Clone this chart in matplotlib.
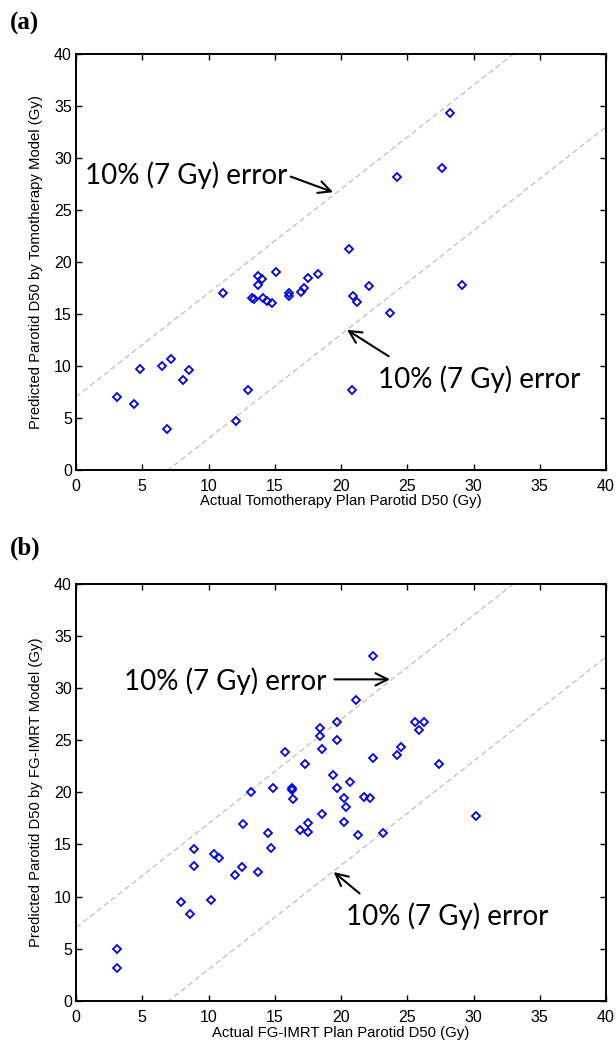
import matplotlib
matplotlib.use('Agg')
import matplotlib.pyplot as plt

# (a) tomotherapy plans vs model prediction (Gy)
tomo_actual = [3.1, 4.4, 4.8, 6.9, 6.5, 7.2, 8.1, 8.5, 11.1, 12.1, 13.0, 13.3, 13.4,
               13.7, 14.0, 13.7, 15.1, 14.1, 14.4, 14.8, 16.1, 16.1, 17.0, 17.2,
               17.5, 18.3, 28.2, 27.6, 24.2, 20.6, 22.1, 29.1, 20.9, 21.2, 23.7, 20.8]
tomo_pred = [7.0, 6.3, 9.7, 3.9, 10.0, 10.6, 8.6, 9.6, 17.0, 4.7, 7.7, 16.5, 16.4,
             18.6, 18.3, 17.8, 19.0, 16.5, 16.2, 16.0, 17.0, 16.7, 17.1, 17.5,
             18.4, 18.8, 34.3, 29.0, 28.2, 21.2, 17.7, 17.8, 16.7, 16.1, 15.1, 7.7]

# (b) FG-IMRT plans vs model prediction (Gy)
imrt_actual = [3.1, 3.1, 7.9, 8.6, 8.9, 8.9, 10.2, 10.4, 10.8, 12.0, 12.5, 12.6, 13.2,
               13.7, 14.5, 14.7, 14.9, 15.8, 16.3, 16.3, 16.4, 16.9, 17.3, 17.5,
               17.5, 18.4, 18.4, 18.6, 18.6, 19.4, 19.7, 19.7, 19.7, 20.2, 20.2,
               20.4, 20.7, 21.1, 21.3, 21.7, 22.2, 22.4, 22.4, 23.2, 24.2, 24.5,
               25.6, 25.9, 26.3, 27.4, 30.2]
imrt_pred = [5.0, 3.1, 9.5, 8.3, 14.6, 12.9, 9.7, 14.1, 13.7, 12.1, 12.8, 17.0, 20.0,
             12.4, 16.1, 14.7, 20.4, 23.9, 20.4, 20.2, 19.4, 16.4, 22.7, 17.1,
             16.2, 26.2, 25.4, 24.2, 17.9, 21.7, 26.8, 25.0, 20.4, 19.5, 17.2,
             18.6, 21.0, 28.9, 15.9, 19.6, 19.5, 33.1, 23.3, 16.1, 23.6, 24.4,
             26.8, 26.0, 26.8, 22.7, 17.7]

err_gy = 7
limits = [0, 40]
ticks = [0, 5, 10, 15, 20, 25, 30, 35, 40]
note = '10% (7 Gy) error'

panels = [
    ('(a)', tomo_actual, tomo_pred,
     'Actual Tomotherapy Plan Parotid D50 (Gy)',
     'Predicted Parotid D50 by Tomotherapy Model (Gy)',
     [((0.7, 27.5), (16.2, 28.2), (19.4, 26.7)),
      ((22.8, 7.8), (23.6, 10.9), (20.45, 13.45))]),
    ('(b)', imrt_actual, imrt_pred,
     'Actual FG-IMRT Plan Parotid D50 (Gy)',
     'Predicted Parotid D50 by FG-IMRT Model (Gy)',
     [((3.6, 29.8), (19.5, 30.85), (23.7, 30.85)),
      ((20.4, 7.3), (21.4, 10.3), (19.45, 12.35))]),
]

fig = plt.figure(figsize=(6.16, 10.45), dpi=100)
axes_rects = [[0.1234, 0.5507, 0.8604, 0.3976], [0.1234, 0.0424, 0.8604, 0.3987]]
label_y = [0.978, 0.4756]

for rect, ly, (tag, xs, ys, xlab, ylab, notes) in zip(axes_rects, label_y, panels):
    ax = fig.add_axes(rect)
    ax.plot(limits, [v + err_gy for v in limits], color='#b8b8b8', lw=0.8,
            ls=(0, (5, 3)), zorder=1)
    ax.plot(limits, [v - err_gy for v in limits], color='#b8b8b8', lw=0.8,
            ls=(0, (5, 3)), zorder=1)
    ax.plot(xs, ys, ls='none', marker='D', ms=3.8, mfc='none', mec='#0000ee',
            mew=1.3, zorder=3)
    ax.set_xlim(limits)
    ax.set_ylim(limits)
    ax.set_xticks(ticks)
    ax.set_yticks(ticks)
    ax.tick_params(direction='in', length=4, width=1, top=True, right=True,
                   labelsize=11.5)
    ax.tick_params(axis='x', pad=6.5)
    ax.tick_params(axis='y', pad=3)
    for lbl in ax.get_xticklabels() + ax.get_yticklabels():
        lbl.set_family('Liberation Sans')
    for sp in ax.spines.values():
        sp.set_linewidth(1.4)
    ax.set_xlabel(xlab, fontsize=10.7, family='Liberation Sans')
    ax.set_ylabel(ylab, fontsize=10.7, family='Liberation Sans')
    ax.xaxis.set_label_coords(0.5, -0.06)
    ax.yaxis.set_label_coords(-0.062, 0.5)
    for txt_xy, tail, head in notes:
        ax.text(txt_xy[0], txt_xy[1], note, fontsize=20, family='Lato',
                ha='left', va='baseline')
        ax.annotate('', xy=head, xytext=tail,
                    arrowprops=dict(arrowstyle='->', lw=1.5, color='black',
                                    mutation_scale=22, shrinkA=0, shrinkB=0))
    fig.text(10 / 616, ly, tag, fontsize=18, fontweight='bold',
             family='Liberation Serif', ha='left', va='center')

fig.savefig('out.png', dpi=100)
